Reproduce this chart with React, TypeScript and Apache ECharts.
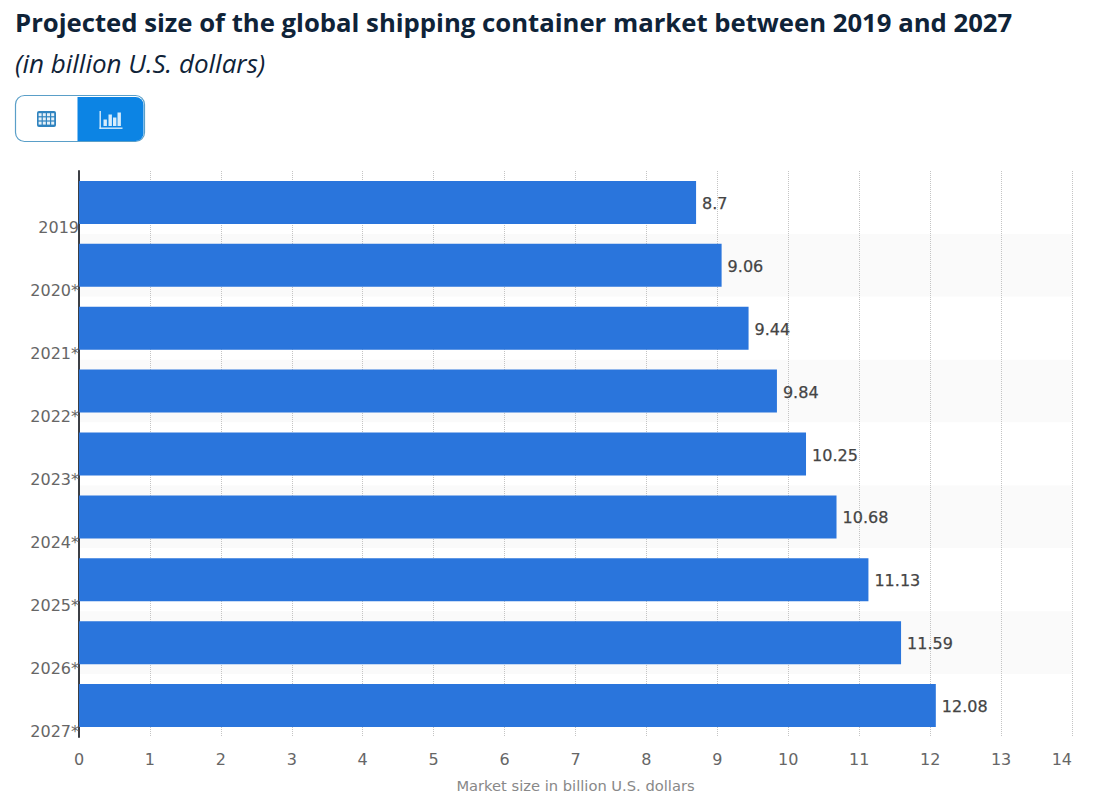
import React, { useEffect, useRef } from "react";
import * as echarts from "echarts";

const titleText = "Projected size of the global shipping container market between 2019 and 2027";
const subtitleText = "(in billion U.S. dollars)";
const axisName = "Market size in billion U.S. dollars";
const categories = ["2019", "2020*", "2021*", "2022*", "2023*", "2024*", "2025*", "2026*", "2027*"];
const marketSize = [8.7, 9.06, 9.44, 9.84, 10.25, 10.68, 11.13, 11.59, 12.08];

const AXIS_FONT = "'DejaVu Sans', sans-serif";

export default function App() {
  const ref = useRef<HTMLDivElement>(null);
  useEffect(() => {
    document.body.style.margin = "0";
    const chart = echarts.init(ref.current!, null, { renderer: "svg" });
    const tableCells: any[] = [];
    for (let r = 0; r < 3; r++) {
      for (let c = 0; c < 4; c++) {
        tableCells.push({
          type: "rect",
          shape: { x: 38.6 + c * 4.2, y: 113.2 + r * 4.2, width: 3, height: 3 },
          style: { fill: "#e6f1f8" },
          z: 12,
        });
      }
    }
    chart.setOption({
      animation: false,
      backgroundColor: "#fff",
      title: [
        {
          text: titleText,
          left: 10,
          top: 4,
          textStyle: { fontFamily: "'Open Sans'", fontWeight: 700, fontSize: 25.7, color: "#0f2338" },
        },
        {
          text: subtitleText,
          left: 10,
          top: 45,
          textStyle: { fontFamily: "'Open Sans'", fontStyle: "italic", fontWeight: 400, fontSize: 26, color: "#0f2338" },
        },
      ],
      grid: { left: 79, right: 27, top: 171, bottom: 63, containLabel: false },
      xAxis: {
        type: "value",
        min: 0,
        max: 14,
        interval: 1,
        name: axisName,
        nameLocation: "middle",
        nameGap: 41,
        nameTextStyle: { fontFamily: AXIS_FONT, fontSize: 14.7, color: "#888" },
        axisLine: { show: false },
        axisTick: { show: false },
        axisLabel: { fontFamily: AXIS_FONT, fontSize: 16, color: "#666", margin: 14, alignMaxLabel: "right" },
        splitLine: { show: true, lineStyle: { type: "dotted", color: "#c4c4c4", width: 1 } },
      },
      yAxis: {
        type: "category",
        inverse: true,
        data: categories,
        axisLine: { show: true, lineStyle: { color: "#3c3f45", width: 2 } },
        axisTick: { show: false },
        axisLabel: {
          fontFamily: AXIS_FONT,
          fontSize: 16,
          color: "#666",
          margin: 0,
          verticalAlign: "top",
          lineHeight: 51,
        },
        splitArea: { show: true, areaStyle: { color: ["#ffffff", "#fafafa"] } },
      },
      series: [
        {
          type: "bar",
          data: marketSize,
          barWidth: 43,
          itemStyle: { color: "#2a75dc" },
          label: {
            show: true,
            position: "right",
            distance: 8,
            offset: [-2, 1],
            fontFamily: AXIS_FONT,
            fontSize: 16,
            fontWeight: 400,
            color: "#444",
            textBorderColor: "#444",
            textBorderWidth: 0.25,
          },
        },
      ],
      graphic: [
        {
          type: "group",
          children: [
            {
              type: "rect",
              shape: { x: 15.5, y: 95.5, width: 129, height: 46, r: 9 },
              style: { fill: "#fff", stroke: "#5a9fc8", lineWidth: 1.2 },
              z: 10,
            },
            {
              type: "rect",
              shape: { x: 77.5, y: 97, width: 66, height: 44, r: [0, 8, 8, 0] },
              style: { fill: "#0c84e4" },
              z: 11,
            },
            {
              type: "rect",
              shape: { x: 37, y: 111, width: 19, height: 16, r: 2 },
              style: { fill: "#2f83bf" },
              z: 11,
            },
            ...tableCells,
            { type: "rect", shape: { x: 99.5, y: 111, width: 1.4, height: 18 }, style: { fill: "#d6ecfb" }, z: 12 },
            { type: "rect", shape: { x: 99.5, y: 127.5, width: 23, height: 1.4 }, style: { fill: "#d6ecfb" }, z: 12 },
            { type: "rect", shape: { x: 103.5, y: 119.5, width: 3.4, height: 6.5 }, style: { fill: "#d6ecfb" }, z: 12 },
            { type: "rect", shape: { x: 108.5, y: 114.5, width: 3.4, height: 11.5 }, style: { fill: "#d6ecfb" }, z: 12 },
            { type: "rect", shape: { x: 113, y: 117.5, width: 3.4, height: 8.5 }, style: { fill: "#d6ecfb" }, z: 12 },
            { type: "rect", shape: { x: 117.5, y: 112.5, width: 3.4, height: 13.5 }, style: { fill: "#d6ecfb" }, z: 12 },
          ],
        },
      ],
    });
    return () => chart.dispose();
  }, []);
  return <div ref={ref} style={{ width: 1099, height: 800 }} />;
}
